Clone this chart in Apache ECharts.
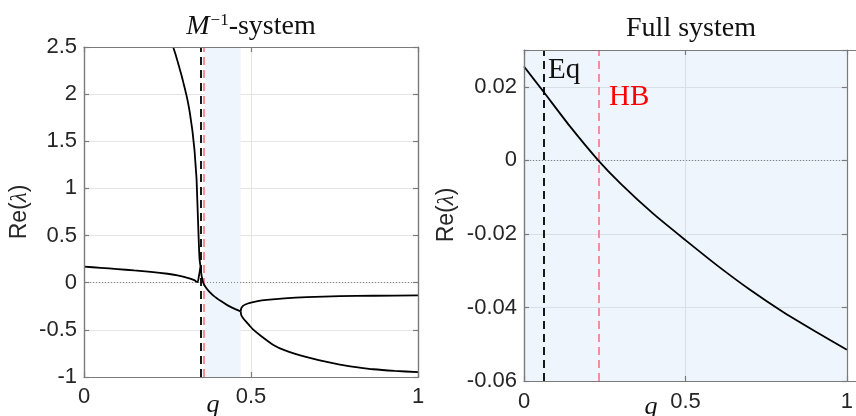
<!DOCTYPE html>
<html>
<head>
<meta charset="utf-8">
<script src="https://cdn.jsdelivr.net/npm/echarts@6/dist/echarts.min.js"></script>
<style>
  html, body { margin: 0; padding: 0; background: #fff; }
  #chart { width: 856px; height: 416px; }
</style>
</head>
<body>
<div id="chart"></div>
<script>
// M^-1 system: branches of Re(lambda) against q
const leftBranch = [[0, 0.17], [0.05, 0.158], [0.1, 0.145], [0.15, 0.13], [0.2, 0.115], [0.25, 0.095], [0.28, 0.077], [0.31, 0.052], [0.33, 0.027], [0.34, 0.006], [0.344, 0.07], [0.347, 0.13], [0.349, 0.17]];
const steepBranch = [[0.267, 2.5], [0.276, 2.4], [0.284, 2.3], [0.292, 2.2], [0.299, 2.1], [0.306, 2.0], [0.312, 1.9], [0.317, 1.8], [0.321, 1.7], [0.325, 1.6], [0.328, 1.5], [0.331, 1.4], [0.333, 1.3], [0.335, 1.2], [0.337, 1.1], [0.338, 1.0], [0.34, 0.8], [0.342, 0.6], [0.344, 0.4], [0.346, 0.25], [0.349, 0.17]];
const pairBranch = [[0.349, 0.17], [0.351, 0.1], [0.354, 0.04], [0.358, -0.01], [0.365, -0.05], [0.375, -0.095], [0.39, -0.145], [0.41, -0.195], [0.43, -0.24], [0.45, -0.275], [0.469, -0.305]];
const upperBranch = [[0.469, -0.305], [0.471, -0.27], [0.476, -0.245], [0.485, -0.228], [0.497, -0.214], [0.52, -0.195], [0.547, -0.182], [0.6, -0.166], [0.667, -0.153], [0.766, -0.143], [0.866, -0.138], [1, -0.135]];
const lowerBranch = [[0.469, -0.305], [0.471, -0.345], [0.477, -0.38], [0.487, -0.42], [0.497, -0.46], [0.506, -0.495], [0.53, -0.565], [0.567, -0.66], [0.6, -0.715], [0.667, -0.79], [0.72, -0.835], [0.766, -0.868], [0.82, -0.897], [0.866, -0.918], [0.93, -0.935], [1, -0.948]];
const leftEq = 0.352;
const leftHB = 0.362;
const leftBand = [0.362, 0.469];

// Full system
const fullCurve = [[0, 0.0255], [0.06, 0.0187], [0.14, 0.0095], [0.23, 0.0], [0.3, -0.0064], [0.4, -0.0145], [0.5, -0.0217], [0.6, -0.0287], [0.7, -0.0352], [0.8, -0.0411], [0.9, -0.0464], [1, -0.0515]];
const fullEq = 0.06;
const fullHB = 0.23;

const chart = echarts.init(document.getElementById("chart"));

const boxCol = "#7a7a7a";
const labelStyle = { color: "#262626", fontSize: 22, fontFamily: "Liberation Sans, Arial" };
const leftBox = { left: 84, top: 47, width: 334, height: 330 };
const rightBox = { left: 524, top: 50, width: 334, height: 331 };

// axis that carries the labels and grid lines
function gridX(grid, margin) {
  return {
    type: "value", gridIndex: grid, min: 0, max: 1, interval: 0.5, position: "bottom", z: 0,
    axisLine: { show: false }, axisTick: { show: false },
    axisLabel: Object.assign({ margin: margin }, labelStyle),
    splitLine: { show: true, showMinLine: false, showMaxLine: false, lineStyle: { color: grid === 0 ? "#e4e4e4" : "#d8dfe8" } },
  };
}
// box edges with inward ticks
function edgeX(grid, pos) {
  return {
    type: "value", gridIndex: grid, min: 0, max: 1, interval: 0.5, position: pos, z: 8,
    axisLine: { show: true, onZero: false, lineStyle: { color: boxCol, width: 1.2 } },
    axisTick: { show: true, inside: true, length: 5, lineStyle: { color: boxCol, width: 1.2 } },
    axisLabel: { show: false }, splitLine: { show: false },
  };
}
function gridY(grid, min, max, interval, showMax) {
  return {
    type: "value", gridIndex: grid, min: min, max: max, interval: interval, position: "left", z: 0,
    axisLine: { show: false }, axisTick: { show: false },
    axisLabel: Object.assign({ margin: 7, showMaxLabel: showMax }, labelStyle),
    splitLine: { show: true, showMinLine: false, showMaxLine: false, lineStyle: { color: grid === 0 ? "#e4e4e4" : "#d8dfe8" } },
  };
}
function edgeY(grid, min, max, interval, pos) {
  return {
    type: "value", gridIndex: grid, min: min, max: max, interval: interval, position: pos, z: 8,
    axisLine: { show: true, onZero: false, lineStyle: { color: boxCol, width: 1.2 } },
    axisTick: { show: true, inside: true, length: 5, lineStyle: { color: boxCol, width: 1.2 } },
    axisLabel: { show: false }, splitLine: { show: false },
  };
}

const curve = (data, xi, yi) => ({
  type: "line", data: data, xAxisIndex: xi, yAxisIndex: yi,
  showSymbol: false, smooth: 0.2, z: 5, silent: true,
  lineStyle: { color: "#000", width: 1.8 },
});

const dashBlack = { color: "#000", type: [8, 5], width: 1.8 };
const dashRed = { color: "#f3858a", type: [8, 5], width: 1.8 };
const zeroLine = { color: "#666", type: [1, 2], width: 0.8 };

const reRich = {
  s: { fontSize: 23, fill: "#262626", fontFamily: "Liberation Sans, Arial" },
  l: { fontSize: 23, fill: "#262626", fontFamily: "Liberation Serif", fontStyle: "italic" },
};
const serif = "Liberation Serif";

// plain outline around a plot area
const boxRect = (b) => ({
  type: "rect", silent: true, z: 50,
  shape: { x: b.left + 0.5, y: b.top + 0.5, width: b.width, height: b.height },
  style: { fill: "rgba(0,0,0,0)", stroke: boxCol, lineWidth: 1.2 },
});

const option = {
  animation: false,
  grid: [
    Object.assign({ show: false }, leftBox),
    Object.assign({ show: true, backgroundColor: "#eef5fd", borderWidth: 0 }, rightBox),
  ],
  xAxis: [gridX(0, 9), edgeX(0, "bottom"), edgeX(0, "top"),
          gridX(1, 10), edgeX(1, "bottom"), edgeX(1, "top")],
  yAxis: [gridY(0, -1, 2.5, 0.5, true), edgeY(0, -1, 2.5, 0.5, "left"), edgeY(0, -1, 2.5, 0.5, "right"),
          gridY(1, -0.06, 0.03, 0.02, false), edgeY(1, -0.06, 0.03, 0.02, "left"), edgeY(1, -0.06, 0.03, 0.02, "right")],
  series: [
    {
      type: "line", data: [], xAxisIndex: 0, yAxisIndex: 0, z: 1, silent: true,
      markArea: { silent: true, itemStyle: { color: "#eef5fd" }, data: [[{ xAxis: leftBand[0] }, { xAxis: leftBand[1] }]] },
      markLine: {
        silent: true, symbol: "none", label: { show: false },
        data: [
          { yAxis: 0, lineStyle: zeroLine },
          { xAxis: leftEq, lineStyle: dashBlack },
          { xAxis: leftHB, lineStyle: dashRed },
        ],
      },
    },
    curve(leftBranch, 0, 0),
    curve(steepBranch, 0, 0),
    curve(pairBranch, 0, 0),
    curve(upperBranch, 0, 0),
    curve(lowerBranch, 0, 0),
    {
      type: "line", data: [], xAxisIndex: 3, yAxisIndex: 3, z: 1, silent: true,
      markLine: {
        silent: true, symbol: "none", label: { show: false },
        data: [
          { yAxis: 0, lineStyle: zeroLine },
          { xAxis: fullEq, lineStyle: dashBlack },
          { xAxis: fullHB, lineStyle: dashRed },
        ],
      },
    },
    curve(fullCurve, 3, 3),
  ],
  graphic: [
    boxRect(leftBox),
    boxRect(rightBox),
    {
      type: "text", x: 251, y: 27,
      style: {
        text: "{i|M}{s|−1}{n|-system}", align: "center", verticalAlign: "middle",
        rich: {
          i: { fontSize: 28, fontFamily: serif, fontStyle: "italic", fill: "#111" },
          s: { fontSize: 17, fontFamily: serif, fill: "#111", verticalAlign: "top", padding: [0, 0, 12, 1] },
          n: { fontSize: 28, fontFamily: serif, fill: "#111" },
        },
      },
    },
    {
      type: "text", x: 691, y: 29,
      style: { text: "Full system", align: "center", verticalAlign: "middle", fontSize: 28, fontFamily: serif, fill: "#111" },
    },
    {
      type: "text", x: 20, y: 212, rotation: Math.PI / 2,
      style: { text: "{s|Re(}{l|λ}{s|)}", rich: reRich, align: "center", verticalAlign: "middle" },
    },
    {
      type: "text", x: 447, y: 215, rotation: Math.PI / 2,
      style: { text: "{s|Re(}{l|λ}{s|)}", rich: reRich, align: "center", verticalAlign: "middle" },
    },
    {
      type: "text", x: 213, y: 405,
      style: { text: "q", align: "center", verticalAlign: "middle", fontSize: 26, fontFamily: serif, fontStyle: "italic", fill: "#111" },
    },
    {
      type: "text", x: 651, y: 407,
      style: { text: "q", align: "center", verticalAlign: "middle", fontSize: 26, fontFamily: serif, fontStyle: "italic", fill: "#111" },
    },
    {
      type: "text", x: 548, y: 70, z: 10,
      style: { text: "Eq", align: "left", verticalAlign: "middle", fontSize: 29, fontFamily: serif, fill: "#111" },
    },
    {
      type: "text", x: 609, y: 97, z: 10,
      style: { text: "HB", align: "left", verticalAlign: "middle", fontSize: 29, fontFamily: serif, fill: "#ff0000" },
    },
  ],
};

chart.setOption(option);
</script>
</body>
</html>
